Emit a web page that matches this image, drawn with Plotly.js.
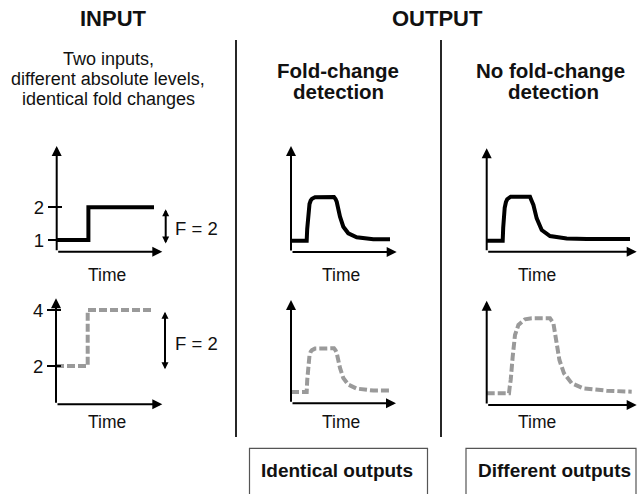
<!DOCTYPE html>
<html><head><meta charset="utf-8">
<script src="https://cdn.plot.ly/plotly-3.0.1.min.js"></script>
<style>html,body{margin:0;padding:0;background:#fff}</style>
</head><body><div id="chart" style="width:637px;height:494px"></div>
<script>
// ---------- data (time and level in arbitrary units) ----------
const inputTime   = [0, 3.17, 9.73];
const inputLevelA = [1, 2, 2];          // first input  (1 -> 2)
const inputLevelB = [2, 4, 4];          // second input (2 -> 4)
const inputTicksA = [1, 2];
const inputTicksB = [2, 4];

const fcdTime   = [0, 1.57, 1.62, 1.68, 1.75, 1.85, 1.97, 2.1, 2.4, 3.0, 4.3, 4.45, 4.57, 4.9, 5.23, 5.73, 6.57, 8.23, 9.9];
const fcdOutput = [1.13, 1.13, 2.3, 3.4, 4.2, 4.8, 5.15, 5.32, 5.47, 5.5, 5.5, 5.3, 5.03, 3.53, 2.53, 1.87, 1.47, 1.27, 1.27];

const noFcdTimeA   = [0, 1.6, 1.65, 1.72, 1.8, 1.92, 2.05, 2.4, 4.33, 4.45, 4.67, 5.0, 5.5, 6.33, 8.0, 10.0, 14.33];
const noFcdOutputA = [1.1, 1.1, 2.4, 3.6, 4.4, 4.95, 5.25, 5.5, 5.5, 5.2, 4.67, 3.33, 2.17, 1.57, 1.33, 1.28, 1.27];

const noFcdTimeB   = [0, 2.23, 2.3, 2.4, 2.6, 2.83, 3.17, 3.83, 4.5, 6.33, 6.67, 6.93, 7.27, 7.73, 8.5, 9.67, 12.0, 14.5];
const noFcdOutputB = [1.17, 1.17, 1.8, 2.5, 4.83, 7.0, 8.0, 8.57, 8.67, 8.67, 8.17, 6.5, 4.5, 3.17, 2.17, 1.67, 1.43, 1.33];

const headerTexts = ['INPUT', 'OUTPUT'];
const inputDescription = ['Two inputs,', 'different absolute levels,', 'identical fold changes'];
const columnTitles = [['Fold-change', 'detection'], ['No fold-change', 'detection']];
const resultTexts = ['Identical outputs', 'Different outputs'];
const foldLabel = 'F = 2';
const timeLabel = 'Time';

// ---------- layout helpers ----------
const W = 637, H = 494;
const FONT = 'Liberation Sans, Arial, Helvetica, sans-serif';
const px = x => x / W;
const py = y => 1 - y / H;

// panel frames (pixel boxes) ; ranges: 10 px per unit for outputs
const panels = [
  {bx:[56.7,162.3], by:[251.7,146],   yr:[0.643,3.876]},
  {bx:[56,162.3],   by:[404.3,298.3], yr:[0.632,4.42]},
  {bx:[291,396.7],  by:[252,146]},
  {bx:[291,396],    by:[403.3,300]},
  {bx:[486.7,636.7],by:[251.7,148.3]},
  {bx:[486.7,636.7],by:[405,300.7]}
];
panels.forEach(p => {
  p.xr = [0, (p.bx[1]-p.bx[0])/10];
  if (!p.yr) p.yr = [0, (p.by[0]-p.by[1])/10];
});

const solid  = {color:'#000', width:4};
const dashed = {color:'#9a9a9a', width:4, dash:'8px,3px'};

const series = [
  {x:inputTime, y:inputLevelA, line:Object.assign({shape:'hv'}, solid)},
  {x:inputTime, y:inputLevelB, line:Object.assign({shape:'hv'}, dashed)},
  {x:fcdTime, y:fcdOutput, line:solid},
  {x:fcdTime, y:fcdOutput, line:dashed},
  {x:noFcdTimeA, y:noFcdOutputA, line:solid},
  {x:noFcdTimeB, y:noFcdOutputB, line:dashed}
];

const traces = series.map((s, i) => ({
  type:'scatter', mode:'lines', x:s.x, y:s.y, line:s.line,
  xaxis: i===0 ? 'x' : 'x'+(i+1), yaxis: i===0 ? 'y' : 'y'+(i+1),
  hoverinfo:'skip', showlegend:false
}));
// empty traces to carry the inside-tick overlay axes
traces.push({type:'scatter', x:[], y:[], xaxis:'x',  yaxis:'y7', showlegend:false, hoverinfo:'skip'});
traces.push({type:'scatter', x:[], y:[], xaxis:'x2', yaxis:'y8', showlegend:false, hoverinfo:'skip'});

const layout = {
  width:W, height:H, margin:{l:0,r:0,t:0,b:0},
  paper_bgcolor:'#fff', plot_bgcolor:'rgba(0,0,0,0)',
  showlegend:false, font:{family:FONT, color:'#111'},
  annotations:[], shapes:[]
};

panels.forEach((p, i) => {
  const n = i+1, xs = n===1 ? '' : n, xn = 'x'+xs, yn = 'y'+xs;
  layout['xaxis'+xs] = {
    domain:[px(p.bx[0]), px(p.bx[1])], range:p.xr, anchor:yn,
    showgrid:false, zeroline:false, showline:false, ticks:'', showticklabels:false, fixedrange:true
  };
  const ya = {
    domain:[py(p.by[0]), py(p.by[1])], range:p.yr, anchor:xn,
    showgrid:false, zeroline:false, showline:false, fixedrange:true
  };
  if (n <= 2) {
    Object.assign(ya, {
      tickmode:'array', tickvals: n===1 ? inputTicksA : inputTicksB,
      ticktext:(n===1 ? inputTicksA : inputTicksB).map(String),
      ticks:'outside', ticklen:8, tickwidth:2, tickcolor:'#000',
      tickfont:{size:18.5, family:FONT, color:'#111'}
    });
  } else {
    Object.assign(ya, {ticks:'', showticklabels:false});
  }
  layout['yaxis'+xs] = ya;

  // axis arrows (x and y)
  const arrowBase = {xref:xn, yref:yn, axref:xn, ayref:yn, text:'', showarrow:true,
    arrowhead:2, arrowsize:1, arrowwidth:2, arrowcolor:'#000', standoff:0, startstandoff:0};
  layout.annotations.push(Object.assign({}, arrowBase, {x:p.xr[1], y:p.yr[0], ax:p.xr[0], ay:p.yr[0]}));
  layout.annotations.push(Object.assign({}, arrowBase, {x:p.xr[0], y:p.yr[1], ax:p.xr[0], ay:p.yr[0]}));
});

// inside half of the crossing ticks on input panels
layout.yaxis7 = {overlaying:'y', anchor:'x', range:panels[0].yr, tickmode:'array', tickvals:inputTicksA,
  ticks:'inside', ticklen:5, tickwidth:2, tickcolor:'#000', showticklabels:false,
  showgrid:false, zeroline:false, showline:false, fixedrange:true};
layout.yaxis8 = {overlaying:'y2', anchor:'x2', range:panels[1].yr, tickmode:'array', tickvals:inputTicksB,
  ticks:'inside', ticklen:5, tickwidth:2, tickcolor:'#000', showticklabels:false,
  showgrid:false, zeroline:false, showline:false, fixedrange:true};

function txt(t, x, y, size, bold) {
  layout.annotations.push({xref:'paper', yref:'paper', x:px(x), y:py(y), xanchor:'center', yanchor:'middle',
    text: bold ? '<b>'+t+'</b>' : t, showarrow:false, font:{family:FONT, size:size, color:'#111'}});
}

txt(headerTexts[0], 113, 18.3, 22, true);
txt(headerTexts[1], 438, 18.3, 22, true);
inputDescription.forEach((t, i) => txt(t, 108, 59.2 + i*19.7, 18, false));
txt(columnTitles[0][0], 337.5, 70.3, 20.5, true);
txt(columnTitles[0][1], 338.5, 91.8, 20.5, true);
txt(columnTitles[1][0], 550, 70.3, 20.5, true);
txt(columnTitles[1][1], 553, 91.8, 20.5, true);

// time labels
[[107,275],[107,421.7],[341.3,275],[341.3,421.7],[537.2,275],[537.2,421.7]].forEach(c => txt(timeLabel, c[0], c[1], 17.5, false));

// fold-change double arrows
[[165.7,209.3,245],[165,311.7,370.7]].forEach(a => {
  layout.annotations.push({xref:'paper', yref:'paper', x:px(a[0]), y:py(a[1]), ax:0, ay:a[2]-a[1],
    text:'', showarrow:true, arrowside:'end+start', arrowhead:2, startarrowhead:2,
    arrowsize:0.7, startarrowsize:0.7, arrowwidth:2, arrowcolor:'#000', standoff:0, startstandoff:0});
});
txt(foldLabel, 196, 228.3, 18.5, false);
txt(foldLabel, 196, 343.7, 18.5, false);

// result boxes
txt(resultTexts[0], 336.5, 470.3, 19, true);
txt(resultTexts[1], 554, 470.3, 19, true);

// column dividers and result boxes
[236, 441].forEach(x => layout.shapes.push({type:'line', xref:'paper', yref:'paper',
  x0:px(x), x1:px(x), y0:py(40), y1:py(437), line:{color:'#000', width:1.7}}));
[[249.5,427.5],[466,636]].forEach(b => layout.shapes.push({type:'rect', xref:'paper', yref:'paper',
  x0:px(b[0]), x1:px(b[1]), y0:py(448.3), y1:py(505), line:{color:'#555', width:1.2}}));

Plotly.newPlot('chart', traces, layout, {staticPlot:true, displayModeBar:false});
</script></body></html>
